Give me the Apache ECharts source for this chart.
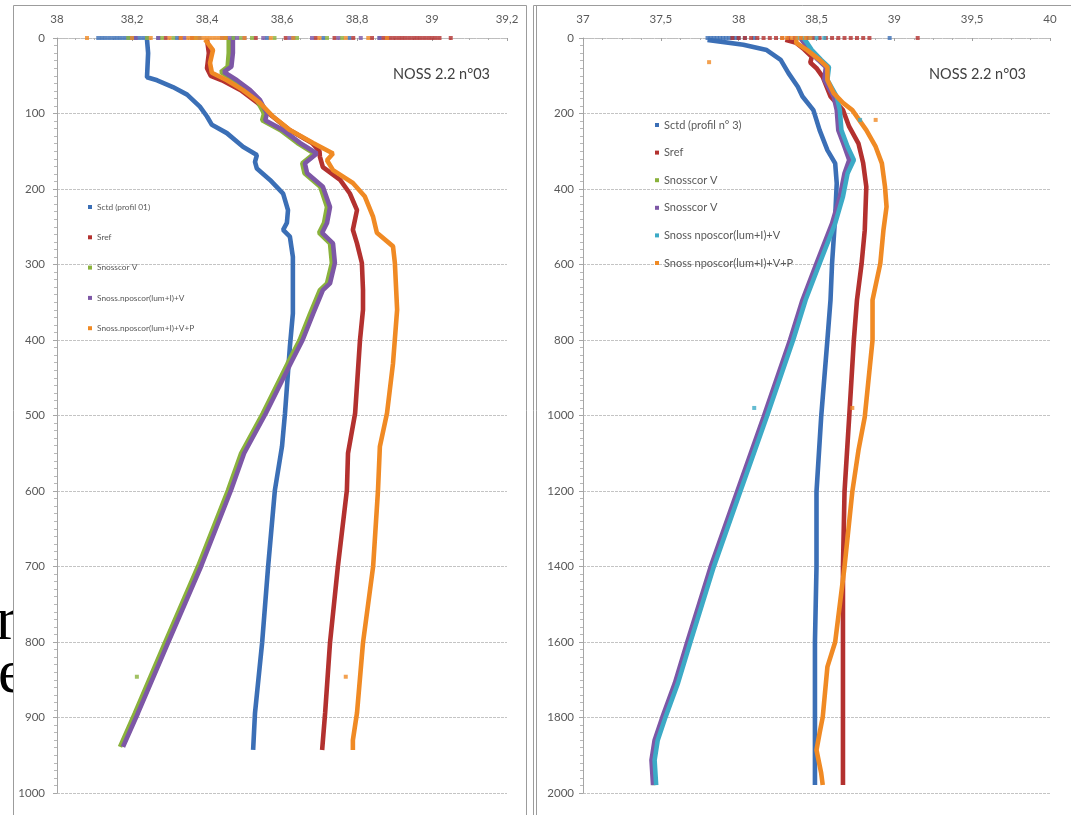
<!DOCTYPE html>
<html>
<head>
<meta charset="utf-8">
<title>NOSS 2.2 n°03</title>
<script src="https://cdn.jsdelivr.net/npm/echarts@6/dist/echarts.min.js"></script>
<style>
  html, body { margin: 0; padding: 0; background: #ffffff; }
  #chart { width: 1071px; height: 815px; }
</style>
</head>
<body>
<div id="chart"></div>
<script>
// ---------- Panel 1 : profil 01, salinity vs depth (m) ----------
const ctd01 = [[38.24,2],[38.243,20],[38.24,52],[38.267,56],[38.309,65],[38.347,75],[38.381,91],[38.4,104],[38.413,115],[38.453,126],[38.496,144],[38.533,155],[38.528,164],[38.533,173],[38.568,188],[38.603,206],[38.616,228],[38.613,245],[38.603,254],[38.621,263],[38.629,290],[38.629,334],[38.629,365],[38.621,409],[38.608,497],[38.6,541],[38.581,599],[38.563,700],[38.547,801],[38.528,894],[38.523,943]];
const ref01 = [[38.4,2],[38.405,20],[38.4,40],[38.41,50],[38.44,56],[38.49,69],[38.535,86],[38.575,104],[38.62,122],[38.68,139],[38.7,150],[38.701,157],[38.709,171],[38.755,188],[38.781,206],[38.8,228],[38.789,254],[38.8,272],[38.813,298],[38.816,334],[38.816,360],[38.808,400],[38.795,497],[38.776,550],[38.773,599],[38.749,700],[38.728,801],[38.715,894],[38.707,943]];
const vcor01 = [[38.458,2],[38.458,20],[38.455,38],[38.437,45],[38.472,56],[38.507,69],[38.533,82],[38.552,100],[38.547,109],[38.596,122],[38.641,139],[38.686,153],[38.654,166],[38.66,179],[38.702,197],[38.72,224],[38.712,245],[38.699,258],[38.728,272],[38.733,298],[38.72,325],[38.701,334],[38.675,365],[38.647,400],[38.615,431],[38.549,497],[38.491,550],[38.456,599],[38.376,700],[38.288,801],[38.208,894],[38.168,939]];
const lumV01 = [[38.469,2],[38.469,20],[38.465,38],[38.445,45],[38.48,56],[38.515,69],[38.541,82],[38.56,100],[38.555,109],[38.603,122],[38.648,139],[38.693,153],[38.661,166],[38.667,179],[38.709,197],[38.728,224],[38.72,245],[38.707,258],[38.736,272],[38.741,298],[38.728,325],[38.709,334],[38.683,365],[38.655,400],[38.623,431],[38.557,497],[38.499,550],[38.464,599],[38.384,700],[38.296,801],[38.216,894],[38.176,939]];
const lumVP01 = [[38.395,2],[38.416,16],[38.408,33],[38.413,46],[38.453,56],[38.496,69],[38.541,86],[38.576,104],[38.621,122],[38.683,139],[38.736,153],[38.72,162],[38.736,175],[38.789,192],[38.821,210],[38.843,237],[38.853,258],[38.896,276],[38.901,298],[38.907,360],[38.896,431],[38.88,497],[38.861,541],[38.856,599],[38.843,700],[38.827,760],[38.816,801],[38.8,894],[38.789,930],[38.789,943]];

// surface readings (depth 0) and isolated points
const ctd01Surface = [38.11,38.12,38.13,38.14,38.15,38.16,38.17,38.18,38.19,38.2,38.21,38.22,38.23,38.24,38.27,38.32,38.38,38.47,38.56,38.63,38.71,38.78,38.86];
const ref01Surface = [38.29,38.33,38.36,38.45,38.53,38.61,38.69,38.74,38.79,38.84,38.87,38.88,38.89,38.9,38.91,38.92,38.93,38.94,38.95,38.96,38.97,38.98,38.99,39.0,39.01,39.02,39.05];
const vcor01Surface = [38.19,38.24,38.28,38.31,38.37,38.45,38.47,38.49,38.52,38.58,38.64,38.72,38.76];
const lumV01Surface = [38.21,38.27,38.34,38.44,38.46,38.48,38.5,38.55,38.62,38.68,38.75,38.81,38.86];
const lumVP01Surface = [38.08,38.2,38.25,38.3,38.33,38.35,38.36,38.37,38.38,38.39,38.4,38.41,38.42,38.43,38.44,38.45,38.5,38.57,38.63,38.7,38.77,38.83,38.88];
const vcor01Spots = [[38.213,846]];
const lumVP01Spots = [[38.77,846]];

// ---------- Panel 2 : profil n° 3 ----------
const ctd03 = [[37.8,5],[38.03,18],[38.18,32],[38.27,58],[38.32,93],[38.38,129],[38.41,155],[38.48,191],[38.52,244],[38.57,297],[38.62,332],[38.63,385],[38.62,473],[38.6,597],[38.59,694],[38.57,800],[38.53,1004],[38.5,1202],[38.5,1401],[38.49,1600],[38.49,1800],[38.49,1979]];
const ref03 = [[38.3,5],[38.37,13],[38.42,30],[38.47,50],[38.46,65],[38.5,80],[38.54,103],[38.59,155],[38.67,191],[38.71,235],[38.77,280],[38.8,332],[38.82,394],[38.81,509],[38.79,597],[38.76,694],[38.74,800],[38.71,1004],[38.68,1202],[38.67,1401],[38.67,1600],[38.67,1800],[38.67,1979]];
const vcorA03 = [[38.41,2],[38.43,13],[38.46,32],[38.52,58],[38.57,77],[38.56,111],[38.62,155],[38.64,191],[38.65,244],[38.69,288],[38.72,323],[38.69,358],[38.66,420],[38.61,491],[38.51,597],[38.42,694],[38.34,800],[38.17,1004],[38.0,1202],[37.83,1401],[37.68,1600],[37.6,1709],[37.52,1799],[37.47,1860],[37.45,1913],[37.46,1979]];
const vcorB03 = [[38.4,2],[38.42,13],[38.45,32],[38.51,58],[38.56,77],[38.55,111],[38.61,155],[38.63,191],[38.64,244],[38.68,288],[38.71,323],[38.68,358],[38.65,420],[38.6,491],[38.5,597],[38.41,694],[38.33,800],[38.16,1004],[37.99,1202],[37.82,1401],[37.67,1600],[37.59,1709],[37.51,1799],[37.46,1860],[37.44,1913],[37.45,1979]];
const lumV03 = [[38.42,2],[38.44,13],[38.47,32],[38.53,58],[38.58,77],[38.57,111],[38.63,155],[38.65,191],[38.66,244],[38.7,288],[38.74,323],[38.7,358],[38.67,420],[38.62,491],[38.52,597],[38.43,694],[38.35,800],[38.18,1004],[38.01,1202],[37.84,1401],[37.69,1600],[37.61,1709],[37.53,1799],[37.48,1860],[37.46,1913],[37.47,1979]];
const lumVP03 = [[38.37,3],[38.37,13],[38.44,32],[38.52,58],[38.57,77],[38.57,111],[38.61,146],[38.67,172],[38.73,191],[38.82,244],[38.88,288],[38.92,332],[38.94,394],[38.95,447],[38.93,509],[38.91,597],[38.86,694],[38.86,800],[38.81,1004],[38.77,1091],[38.73,1202],[38.68,1401],[38.62,1600],[38.57,1666],[38.54,1799],[38.52,1841],[38.5,1886],[38.53,1947],[38.54,1979]];

const ctd03Surface = [37.8,37.82,37.84,37.86,37.88,37.9,37.92,37.94,37.96,37.98,38.0,38.04,38.1,38.97];
const ref03Surface = [37.96,38.0,38.04,38.08,38.12,38.16,38.2,38.24,38.28,38.32,38.36,38.4,38.44,38.48,38.52,38.56,38.6,38.64,38.68,38.72,38.76,38.8,38.84,39.15];
const lumV03Surface = [38.38,38.42,38.46,38.5,38.55];
const lumVP03Surface = [38.28,38.31,38.34,38.37,38.4,38.43,38.46];
const lumV03Spots = [[38.78,217],[38.1,980]];
const lumVP03Spots = [[37.81,64],[38.88,217],[38.73,980]];

const panelTitle = 'NOSS 2.2 n°03';
const legend01 = ['Sctd (profil 01)', 'Sref', 'Snosscor V', 'Snoss.nposcor(lum+I)+V', 'Snoss.nposcor(lum+I)+V+P'];
const legend03 = ['Sctd (profil n° 3)', 'Sref', 'Snosscor V', 'Snosscor V ', 'Snoss nposcor(lum+I)+V', 'Snoss nposcor(lum+I)+V+P'];

const C = {
  blue: '#3b6fb6', red: '#b3312f', green: '#8ab23c', purple: '#7d57a6', cyan: '#3caac6', orange: '#f08a24'
};
const FONT = 'Lato, "Open Sans", sans-serif';
const TXT = '#595959';

const surfacePoints = vals => vals.map(s => [s, 0]);

function profile(name, data, color, idx) {
  return {
    name, type: 'line', xAxisIndex: idx, yAxisIndex: idx, data,
    symbol: 'none', showSymbol: false, silent: true, animation: false,
    lineStyle: { color, width: 4.6 }, itemStyle: { color }, z: 3
  };
}
function spots(name, data, color, idx) {
  return {
    name, type: 'scatter', xAxisIndex: idx, yAxisIndex: idx, data,
    symbol: 'rect', symbolSize: 4, silent: true, animation: false,
    itemStyle: { color }, z: 3
  };
}

const comma = v => String(Math.round(v * 10) / 10).replace('.', ',');
const plain = v => String(v);

function xAxis(idx, min, max, interval) {
  return {
    gridIndex: idx, type: 'value', position: 'top', min, max, interval,
    axisLine: { show: true, onZero: false, lineStyle: { color: '#bdbdbd', width: 1, type: [2, 1] } },
    axisTick: { show: true, inside: true, length: 3, lineStyle: { color: '#a0a0a0' } },
    minorTick: { show: true, splitNumber: 4, length: 2, lineStyle: { color: '#b0b0b0' } },
    splitLine: { show: false },
    axisLabel: { formatter: comma, color: TXT, fontFamily: FONT, fontSize: 11.5, margin: 13 }
  };
}
function yAxis(idx, max, interval, margin) {
  return {
    gridIndex: idx, type: 'value', inverse: true, min: 0, max, interval,
    axisLine: { show: true, lineStyle: { color: '#a6a6a6', width: 1 } },
    axisTick: { show: true, length: 4, lineStyle: { color: '#a6a6a6' } },
    minorTick: { show: true, splitNumber: 10, length: 3, lineStyle: { color: '#b8b8b8' } },
    splitLine: { show: true, lineStyle: { color: '#c4c4c4', width: 1.2, type: [3, 1] } },
    axisLabel: { formatter: plain, color: TXT, fontFamily: FONT, fontSize: 11.5, margin }
  };
}
function legend(names, left, top, fontSize, lineHeight, gap) {
  return {
    data: names, orient: 'vertical', left, top, padding: 0,
    icon: 'rect', itemWidth: 4, itemHeight: 4, itemGap: gap,
    selectedMode: false,
    textStyle: { color: TXT, fontFamily: FONT, fontSize, lineHeight }
  };
}

const chart = echarts.init(document.getElementById('chart'), null, { renderer: 'canvas' });
chart.setOption({
  backgroundColor: '#ffffff',
  animation: false,
  title: [
    { text: panelTitle, left: 393, top: 67, padding: 0, textStyle: { color: '#404040', fontFamily: FONT, fontSize: 14.5, fontWeight: 'normal' } },
    { text: panelTitle, left: 929, top: 67, padding: 0, textStyle: { color: '#404040', fontFamily: FONT, fontSize: 14.5, fontWeight: 'normal' } }
  ],
  grid: [
    { left: 57, top: 38, width: 450, height: 755 },
    { left: 583, top: 38, width: 467, height: 755 }
  ],
  xAxis: [xAxis(0, 38, 39.2, 0.2), xAxis(1, 37, 40, 0.5)],
  yAxis: [yAxis(0, 1000, 100, 12), yAxis(1, 2000, 200, 9)],
  legend: [
    legend(legend01, 88, 201, 8.3, 12, 18.3),
    legend(legend03, 655, 118, 11, 14, 13.6)
  ],
  graphic: [
    { type: 'text', z: -3, left: -4, top: 592, style: { text: 'r', font: '62px "Liberation Serif", serif', fill: '#000' } },
    { type: 'text', z: -3, left: -2, top: 645, style: { text: 'e', font: '62px "Liberation Serif", serif', fill: '#000' } },
    { type: 'rect', z: -2, shape: { x: 13.5, y: 5.5, width: 513, height: 840 }, style: { fill: '#ffffff', stroke: '#9c9c9c', lineWidth: 1 } },
    { type: 'rect', z: -2, shape: { x: 533.5, y: 5.5, width: 560, height: 840 }, style: { fill: '#ffffff', stroke: '#9c9c9c', lineWidth: 1 } },
    { type: 'line', z: -1, shape: { x1: 536.5, y1: 5.5, x2: 536.5, y2: 815 }, style: { stroke: '#9c9c9c', lineWidth: 1 } }
  ],
  series: [
    profile(legend01[0], ctd01, C.blue, 0),
    profile(legend01[1], ref01, C.red, 0),
    profile(legend01[2], vcor01, C.green, 0),
    profile(legend01[3], lumV01, C.purple, 0),
    profile(legend01[4], lumVP01, C.orange, 0),
    spots(legend01[0], surfacePoints(ctd01Surface), C.blue, 0),
    spots(legend01[1], surfacePoints(ref01Surface), C.red, 0),
    spots(legend01[2], surfacePoints(vcor01Surface).concat(vcor01Spots), C.green, 0),
    spots(legend01[3], surfacePoints(lumV01Surface), C.purple, 0),
    spots(legend01[4], surfacePoints(lumVP01Surface).concat(lumVP01Spots), C.orange, 0),

    profile(legend03[0], ctd03, C.blue, 1),
    profile(legend03[1], ref03, C.red, 1),
    profile(legend03[2], vcorA03, C.green, 1),
    profile(legend03[3], vcorB03, C.purple, 1),
    profile(legend03[4], lumV03, C.cyan, 1),
    profile(legend03[5], lumVP03, C.orange, 1),
    spots(legend03[0], surfacePoints(ctd03Surface), C.blue, 1),
    spots(legend03[1], surfacePoints(ref03Surface), C.red, 1),
    spots(legend03[4], surfacePoints(lumV03Surface).concat(lumV03Spots), C.cyan, 1),
    spots(legend03[5], surfacePoints(lumVP03Surface).concat(lumVP03Spots), C.orange, 1)
  ]
});
</script>
</body>
</html>
